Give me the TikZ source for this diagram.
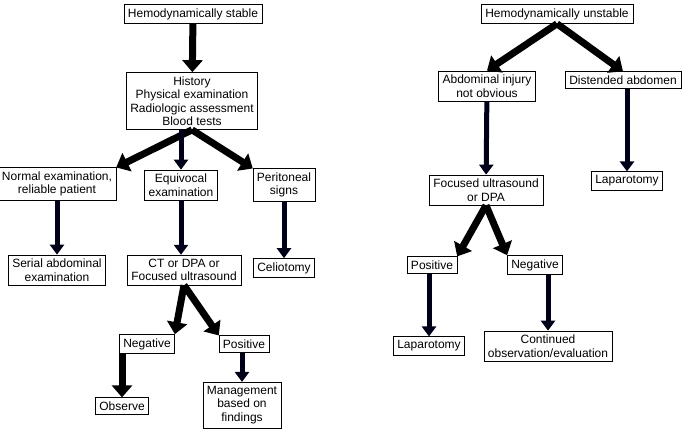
\documentclass[tikz,border=0pt]{standalone}
\usepackage{fontspec}
\setmainfont{Liberation Sans}
\usetikzlibrary{arrows.meta}

\tikzset{
  box/.style={draw, fill=white, align=center, inner xsep=4pt, inner ysep=4pt, font=\fontsize{12}{13.5}\selectfont},
  big/.style={line width=7pt, -{Triangle[length=12pt,width=20pt]}},
  thin/.style={line width=5pt, draw=black!90!blue, -{Triangle[length=10pt,width=14pt]}},
}

\begin{document}
\begin{tikzpicture}[x=1pt,y=-1pt]

\useasboundingbox (0,0) rectangle (685,433);

%% left tree
\node[box] (stable) at (193,14) {Hemodynamically stable};
\node[box] (hist) at (192,101) {History\\Physical examination\\Radiologic assessment\\Blood tests};
\node[box] (normal) at (57,184) {Normal examination,\\reliable patient};
\node[box] (equiv) at (181,185) {Equivocal\\examination};
\node[box] (perit) at (284,185) {Peritoneal\\signs};
\node[box] (serial) at (57,270) {Serial abdominal\\examination};
\node[box] (ct) at (184,270) {CT or DPA or\\Focused ultrasound};
\node[box] (celio) at (284,268) {Celiotomy};
\node[box] (neg) at (147,344) {Negative};
\node[box] (pos) at (244,344) {Positive};
\node[box] (observe) at (122,406) {Observe};
\node[box] (manage) at (242,405) {Management\\based on\\findings};

\draw[big] (stable) -- (hist);
\draw[big] (hist.south) -- (normal.north east);
\draw[thin] (hist.south -| equiv) -- (equiv);
\draw[big] (hist.south) -- (perit.north west);
\draw[thin] (normal) -- (serial);
\draw[thin] (equiv) -- (equiv |- ct.north);
\draw[thin] (perit) -- (celio);
\draw[big] (ct.south) -- (neg.north east);
\draw[big] (ct.south) -- (pos.north west);
\draw[big] (neg.south -| observe) -- (observe);
\draw[thin] (pos.south -| manage) -- (manage);

%% right tree
\node[box] (unstable) at (557,14) {Hemodynamically unstable};
\node[box] (notobv) at (487,86) {Abdominal injury\\not obvious};
\node[box] (dist) at (623,80) {Distended abdomen};
\node[box] (fast) at (486,190) {Focused ultrasound\\or DPA};
\node[box] (lapa) at (627,181) {Laparotomy};
\node[box] (rpos) at (432,265) {Positive};
\node[box] (rneg) at (535,265) {Negative};
\node[box] (lapb) at (429,346) {Laparotomy};
\node[box] (cont) at (548,346) {Continued\\observation/evaluation};

\draw[big] (unstable.south) -- (notobv.north);
\draw[big] (unstable.south) -- (dist.north);
\draw[thin] (notobv) -- (fast);
\draw[thin] (dist.south -| lapa) -- (lapa);
\draw[big] (fast.south) -- (rpos.north east);
\draw[big] (fast.south) -- (rneg.north west);
\draw[thin] (rpos.south -| lapb) -- (lapb);
\draw[thin] (rneg.south -| cont) -- (cont);

\end{tikzpicture}
\end{document}
